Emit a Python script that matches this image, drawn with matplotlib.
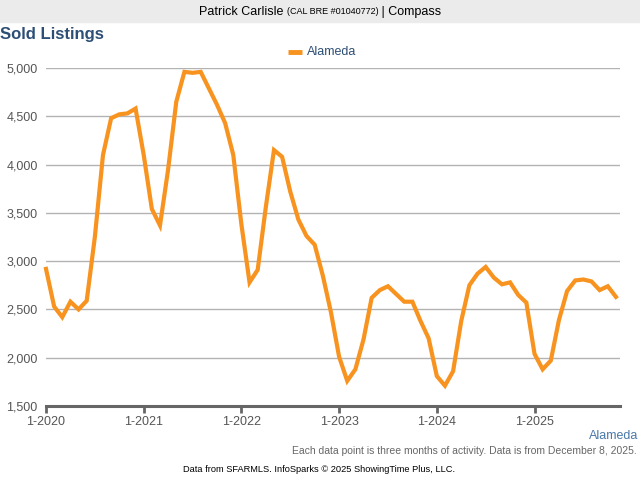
import matplotlib
matplotlib.use('Agg')
import matplotlib.pyplot as plt
from matplotlib.patches import Rectangle

plt.rcParams['font.family'] = ['Liberation Sans', 'DejaVu Sans']

# monthly sold listings, Jan 2020 .. Nov 2025
sold = [2920, 2530, 2420, 2580, 2500, 2590, 3250, 4100, 4480, 4520, 4530, 4580,
        4100, 3540, 3370, 3950, 4650, 4960, 4950, 4960, 4790, 4620, 4430, 4100,
        3380, 2780, 2910, 3560, 4150, 4080, 3720, 3430, 3260, 3170, 2850, 2470,
        2010, 1760, 1880, 2190, 2620, 2700, 2740, 2660, 2580, 2580, 2380, 2200,
        1810, 1710, 1860, 2380, 2750, 2870, 2940, 2830, 2760, 2780, 2650, 2570,
        2040, 1880, 1970, 2390, 2690, 2800, 2810, 2790, 2700, 2740, 2630]
year_ticks = [0, 12, 24, 36, 48, 60]
year_labels = ['1-2020', '1-2021', '1-2022', '1-2023', '1-2024', '1-2025']
y_ticks = [1500, 2000, 2500, 3000, 3500, 4000, 4500, 5000]

orange = '#f7931e'
navy = '#2d4e75'

fig = plt.figure(figsize=(6.4, 4.8), dpi=100)
ax = fig.add_axes([46/640, 1-406/480, (620-46)/640, (406-68)/480])

ax.plot(range(len(sold)), sold, color=orange, lw=3.0, solid_joinstyle='miter',
        clip_on=False, zorder=3)
ax.set_xlim(0, 70.5)
ax.set_ylim(1500, 5000)
ax.set_yticks(y_ticks)
ax.set_yticklabels([f'{v:,}' for v in y_ticks])
ax.set_xticks(year_ticks)
ax.set_xticklabels(year_labels)
ax.grid(axis='y', color='#b3b3b3', lw=1)
ax.set_axisbelow(True)
for s in ['top', 'right', 'left']:
    ax.spines[s].set_visible(False)
ax.spines['bottom'].set_color('#666666')
ax.spines['bottom'].set_linewidth(2.2)
ax.tick_params(axis='x', colors='#666666', length=5, width=2, labelsize=9,
               labelcolor='#555555', pad=2)
ax.tick_params(axis='y', length=0, labelsize=9, labelcolor='#555555', pad=6)

# header band
fig.patches.append(Rectangle((0, 1-22/480), 1, 22/480, transform=fig.transFigure,
                             color='#ebebeb', zorder=0))
parts = [('Patrick Carlisle ', 9), ('(CAL BRE #01040772)', 6.5), (' | Compass', 9)]
renderer = fig.canvas.get_renderer()
texts = [fig.text(0, 1-12/480, s, fontsize=fs, va='center', ha='left') for s, fs in parts]
widths = [t.get_window_extent(renderer).width for t in texts]
x0 = 320 - sum(widths) / 2
for t, w in zip(texts, widths):
    t.set_x(x0 / 640)
    x0 += w

fig.text(0, 1-35/480, 'Sold Listings', fontsize=12, fontweight='bold', color=navy,
         va='center', ha='left')

# legend
fig.add_artist(plt.Line2D([288/640, 302/640], [1-52/480, 1-52/480], color=orange, lw=3.5,
                          solid_capstyle='butt', transform=fig.transFigure))
fig.text(307/640, 1-52/480, 'Alameda', fontsize=9, color=navy, va='center', ha='left')

fig.text(638/640, 1-436/480, 'Alameda', fontsize=9, color='#4a78a8', va='center', ha='right')
fig.text(637/640, 1-451/480, 'Each data point is three months of activity. Data is from December 8, 2025.',
         fontsize=7.5, color='#666666', va='center', ha='right')
fig.text(319/640, 1-469/480, 'Data from SFARMLS. InfoSparks \u00a9 2025 ShowingTime Plus, LLC.',
         fontsize=6.7, color='black', va='center', ha='center')

fig.savefig('out.png', dpi=100)
